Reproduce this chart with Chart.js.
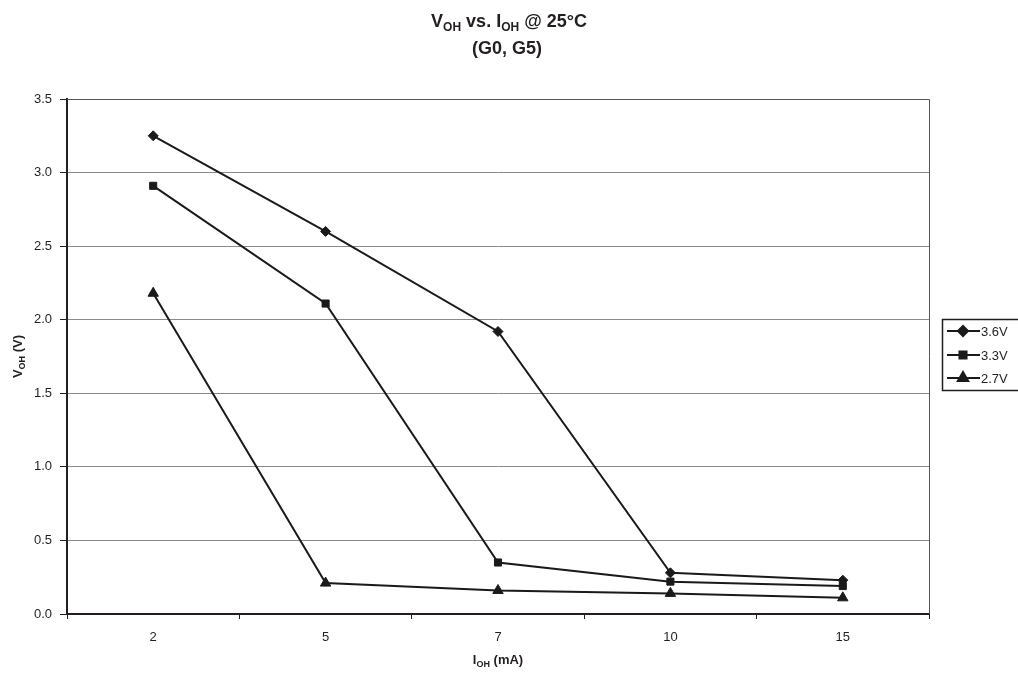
<!DOCTYPE html>
<html>
<head>
<meta charset="utf-8">
<script src="https://cdn.jsdelivr.net/npm/chart.js@4/dist/chart.umd.min.js"></script>
<style>
  html, body { margin: 0; padding: 0; background: #fff; }
  #wrap { width: 1018px; height: 673px; }
</style>
</head>
<body>
<div id="wrap"><canvas id="voh" width="1018" height="673"></canvas></div>
<script>
// I_OH (mA) categories and V_OH (V) readings per supply voltage
const currents = ['2', '5', '7', '10', '15'];
const v36 = [3.25, 2.60, 1.92, 0.28, 0.23];
const v33 = [2.91, 2.11, 0.35, 0.22, 0.19];
const v27 = [2.18, 0.21, 0.16, 0.14, 0.11];
const seriesNames = ['3.6V', '3.3V', '2.7V'];
const yMin = 0, yMax = 3.5, yStep = 0.5;

const ink = '#231f20';
const font = '"Liberation Sans", Arial, Helvetica, sans-serif';

// draws text made of normal + subscript pieces, centred on x
function drawRich(ctx, parts, x, y, size, subSize) {
  let w = 0;
  parts.forEach(p => {
    ctx.font = 'bold ' + (p.sub ? subSize : size) + 'px ' + font;
    w += ctx.measureText(p.t).width;
  });
  let cx = x - w / 2;
  ctx.textAlign = 'left';
  ctx.textBaseline = 'alphabetic';
  parts.forEach(p => {
    ctx.font = 'bold ' + (p.sub ? subSize : size) + 'px ' + font;
    ctx.fillText(p.t, cx, p.sub ? y + size * 0.22 : y);
    cx += ctx.measureText(p.t).width;
  });
}

const textPlugin = {
  id: 'texts',
  beforeDatasetsDraw(chart) {
    const { ctx, chartArea: a } = chart;
    ctx.save();
    ctx.strokeStyle = '#555';
    ctx.lineWidth = 1;
    ctx.beginPath();
    ctx.moveTo(a.left, a.top + 0.5);
    ctx.lineTo(a.right + 0.5, a.top + 0.5);
    ctx.lineTo(a.right + 0.5, a.bottom);
    ctx.stroke();
    ctx.restore();
  },
  afterDraw(chart) {
    const { ctx, chartArea: a } = chart;
    ctx.save();
    ctx.fillStyle = ink;
    // title
    drawRich(ctx, [{t: 'V'}, {t: 'OH', sub: true}, {t: ' vs. I'}, {t: 'OH', sub: true}, {t: ' @ 25°C'}], 509, 27, 18, 12);
    drawRich(ctx, [{t: '(G0, G5)'}], 507, 54, 18, 12);
    // x title
    drawRich(ctx, [{t: 'I'}, {t: 'OH', sub: true}, {t: ' (mA)'}], (a.left + a.right) / 2, 664, 13, 9);
    // y title
    ctx.translate(22, (a.top + a.bottom) / 2);
    ctx.rotate(-Math.PI / 2);
    drawRich(ctx, [{t: 'V'}, {t: 'OH', sub: true}, {t: ' (V)'}], 0, 0, 13, 9);
    ctx.restore();

    // legend box with line + marker samples
    ctx.save();
    ctx.strokeStyle = ink;
    ctx.lineWidth = 1.5;
    ctx.strokeRect(942.5, 319.5, 90, 71);
    const rows = [331, 355, 378];
    chart.data.datasets.forEach((ds, i) => {
      const y = rows[i];
      ctx.strokeStyle = ds.borderColor;
      ctx.lineWidth = 2;
      ctx.beginPath();
      ctx.moveTo(947, y);
      ctx.lineTo(980, y);
      ctx.stroke();
      ctx.fillStyle = ds.borderColor;
      Chart.helpers.drawPoint(ctx, { pointStyle: ds.pointStyle, radius: ds.pointRadius, rotation: 0, borderWidth: 1 }, 963, y);
      ctx.fillStyle = ink;
      ctx.font = '13px ' + font;
      ctx.textAlign = 'left';
      ctx.textBaseline = 'middle';
      ctx.fillText(ds.label, 981, y + 1);
    });
    ctx.restore();
  }
};

function series(label, data, style, r) {
  return {
    label: label,
    data: data,
    borderColor: '#1a1a1a',
    backgroundColor: '#1a1a1a',
    borderWidth: 2,
    pointStyle: style,
    pointRadius: r,
    pointBackgroundColor: '#1a1a1a',
    pointBorderColor: '#1a1a1a',
    pointBorderWidth: 1,
    tension: 0,
    fill: false
  };
}

new Chart(document.getElementById('voh').getContext('2d'), {
  type: 'line',
  data: {
    labels: currents,
    datasets: [
      series(seriesNames[0], v36, 'rectRot', 5),
      series(seriesNames[1], v33, 'rect', 5),
      series(seriesNames[2], v27, 'triangle', 6)
    ]
  },
  options: {
    responsive: false,
    animation: false,
    devicePixelRatio: 1,
    layout: { padding: { top: 99, right: 89, left: 0, bottom: 0 } },
    scales: {
      x: {
        type: 'category',
        offset: true,
        afterFit(scale) { scale.height = 59; },
        grid: { offset: true, drawOnChartArea: false, tickLength: 5, tickColor: ink, lineWidth: 1 },
        border: { color: ink, width: 2 },
        ticks: { color: ink, font: { family: font, size: 13 }, padding: 11, maxRotation: 0 }
      },
      y: {
        min: yMin,
        max: yMax,
        afterFit(scale) { scale.width = 67; },
        grid: { color: '#8a8a8a', lineWidth: 1, tickLength: 7, tickColor: ink },
        border: { color: ink, width: 2 },
        ticks: {
          stepSize: yStep,
          color: ink,
          font: { family: font, size: 13 },
          padding: 8,
          callback: v => Number(v).toFixed(1)
        }
      }
    },
    plugins: {
      legend: { display: false },
      tooltip: { enabled: false },
      title: { display: false }
    }
  },
  plugins: [textPlugin]
});
</script>
</body>
</html>
